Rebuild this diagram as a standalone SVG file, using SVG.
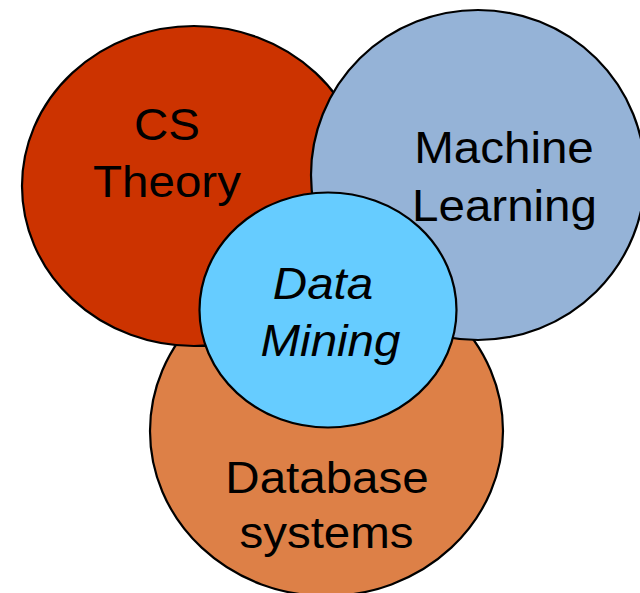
<svg xmlns="http://www.w3.org/2000/svg" width="640" height="593" viewBox="0 0 640 593">
<style>
.c{stroke:#000;stroke-width:2.2}
.t{font-family:"Liberation Sans",Arial,sans-serif;font-size:44px;fill:#000;text-anchor:middle}
.i{font-style:italic}
</style>
<rect width="640" height="593" fill="#fff"/>
<g id="database-systems">
<ellipse class="c" cx="326.5" cy="431" rx="176.5" ry="165" fill="#DD8047"/>
</g>
<g id="cs-theory">
<ellipse class="c" cx="194" cy="186" rx="172" ry="160" fill="#CC3300"/>
<text class="t" transform="translate(167,140) scale(1.08,1)">CS</text>
<text class="t" transform="translate(167,197) scale(1.08,1)">Theory</text>
</g>
<g id="machine-learning">
<ellipse class="c" cx="478" cy="175" rx="167" ry="165" fill="#95B3D7"/>
<text class="t" transform="translate(504,163) scale(1.08,1)">Machine</text>
<text class="t" transform="translate(504.5,221) scale(1.08,1)">Learning</text>
</g>
<g id="database-label">
<text class="t" transform="translate(327,492.5) scale(1.08,1)">Database</text>
<text class="t" transform="translate(326.5,548) scale(1.08,1)">systems</text>
</g>
<g id="data-mining">
<ellipse class="c" cx="328" cy="310" rx="128.5" ry="117.5" fill="#66CCFF"/>
<text class="t i" transform="translate(323,299) scale(1.08,1)">Data</text>
<text class="t i" transform="translate(330.5,355.5) scale(1.08,1)">Mining</text>
</g>
<g id="connectors"/>
</svg>
